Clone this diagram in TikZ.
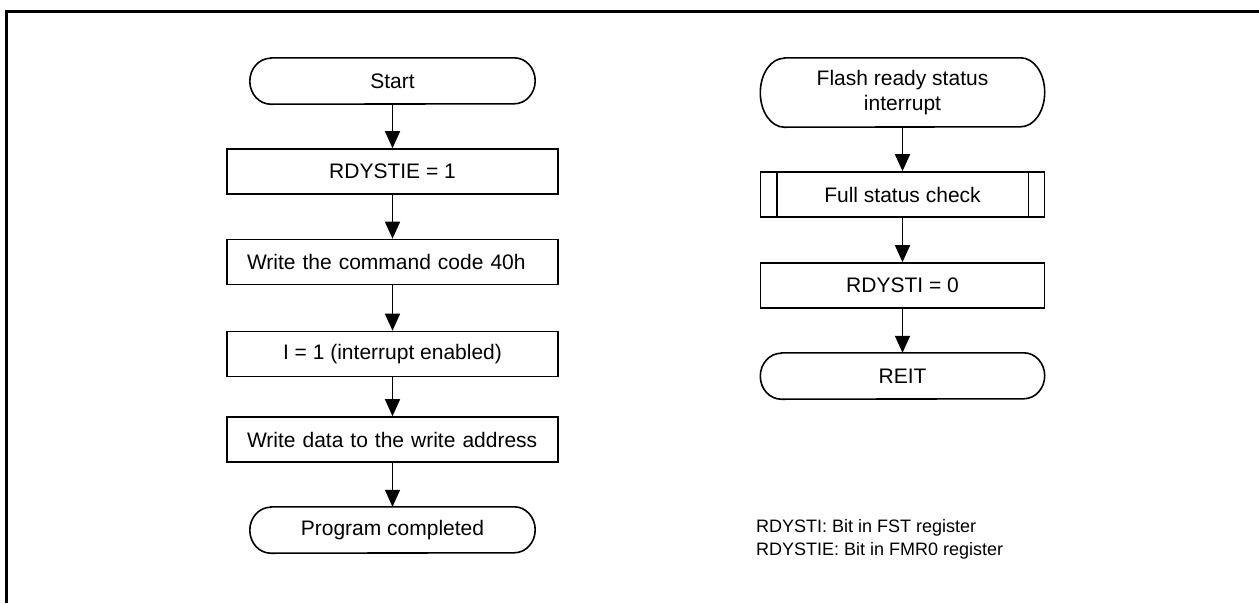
\documentclass[tikz,border=0pt]{standalone}
\usepackage{fontspec}
\setmainfont{Liberation Sans}
\usetikzlibrary{arrows.meta,calc}
\newcommand{\termoutline}[3]{%
  \draw[line width=1.6pt] ($(#1.north west)+(#2,0)$) -- ($(#1.north east)+(-#2,0)$)
    arc[start angle=-90,end angle=90,x radius=#2,y radius=#3]
    -- ($(#1.south west)+(#2,0)$)
    arc[start angle=90,end angle=270,x radius=#2,y radius=#3] -- cycle;}
\begin{document}
\begin{tikzpicture}[x=1pt,y=-1pt,
  box/.style={draw,line width=1.6pt,minimum width=331pt,minimum height=45pt,inner sep=0pt,font=\fontsize{21}{25}\selectfont},
  lbox/.style={box,text width=291pt,align=left},
  term/.style={minimum width=285pt,minimum height=46pt,inner sep=0pt,font=\fontsize{21}{25}\selectfont,align=center},
  rbox/.style={box,minimum width=284pt},
  flow/.style={line width=1.5pt,-{Triangle[length=17pt,width=15pt]}},
  note/.style={anchor=base west,inner sep=0pt,font=\fontsize{18}{23}\selectfont}]
\useasboundingbox (0,0) rectangle (1259,603);
\draw[line width=3pt] (6.5,603) -- (6.5,11.5) -- (1259,11.5);
% left flow
\node[term] (start) at (392.5,81) {Start};
\termoutline{start}{21}{23}
\node[box] (b1) at (392.5,171.5) {RDYSTIE = 1};
\node[lbox] (b2) at (392.5,262) {Write the command code 40h};
\node[box] (b3) at (392.5,354) {I = 1 (interrupt enabled)};
\node[lbox] (b4) at (392.5,439.5) {Write data to the write address};
\node[term] (end) at (392.5,530) {Program completed};
\termoutline{end}{21}{23}
\draw[flow] (start) -- (b1);
\draw[flow] (b1) -- (b2);
\draw[flow] (b2) -- (b3);
\draw[flow] (b3) -- (b4);
\draw[flow] (b4) -- (end);
% right flow
\node[term,minimum width=284pt,minimum height=69pt] (flash) at (902.5,92.5) {Flash ready status\\interrupt};
\termoutline{flash}{24}{34.5}
\node[rbox] (fsc) at (902.5,194.5) {Full status check};
\draw[line width=1.6pt] ($(fsc.north west)+(17,0)$) -- ($(fsc.south west)+(17,0)$);
\draw[line width=1.6pt] ($(fsc.north east)+(-17,0)$) -- ($(fsc.south east)+(-17,0)$);
\node[rbox] (r0) at (902.5,285.5) {RDYSTI = 0};
\node[term,minimum width=284pt] (reit) at (902.5,376) {REIT};
\termoutline{reit}{21}{23}
\draw[flow] (flash) -- (fsc);
\draw[flow] (fsc) -- (r0);
\draw[flow] (r0) -- (reit);
% notes
\node[note] (n1) at (756,532) {RDYSTI: Bit in FST register};
\node[note] (n2) at (756,555) {RDYSTIE: Bit in FMR0 register};
\end{tikzpicture}
\end{document}
